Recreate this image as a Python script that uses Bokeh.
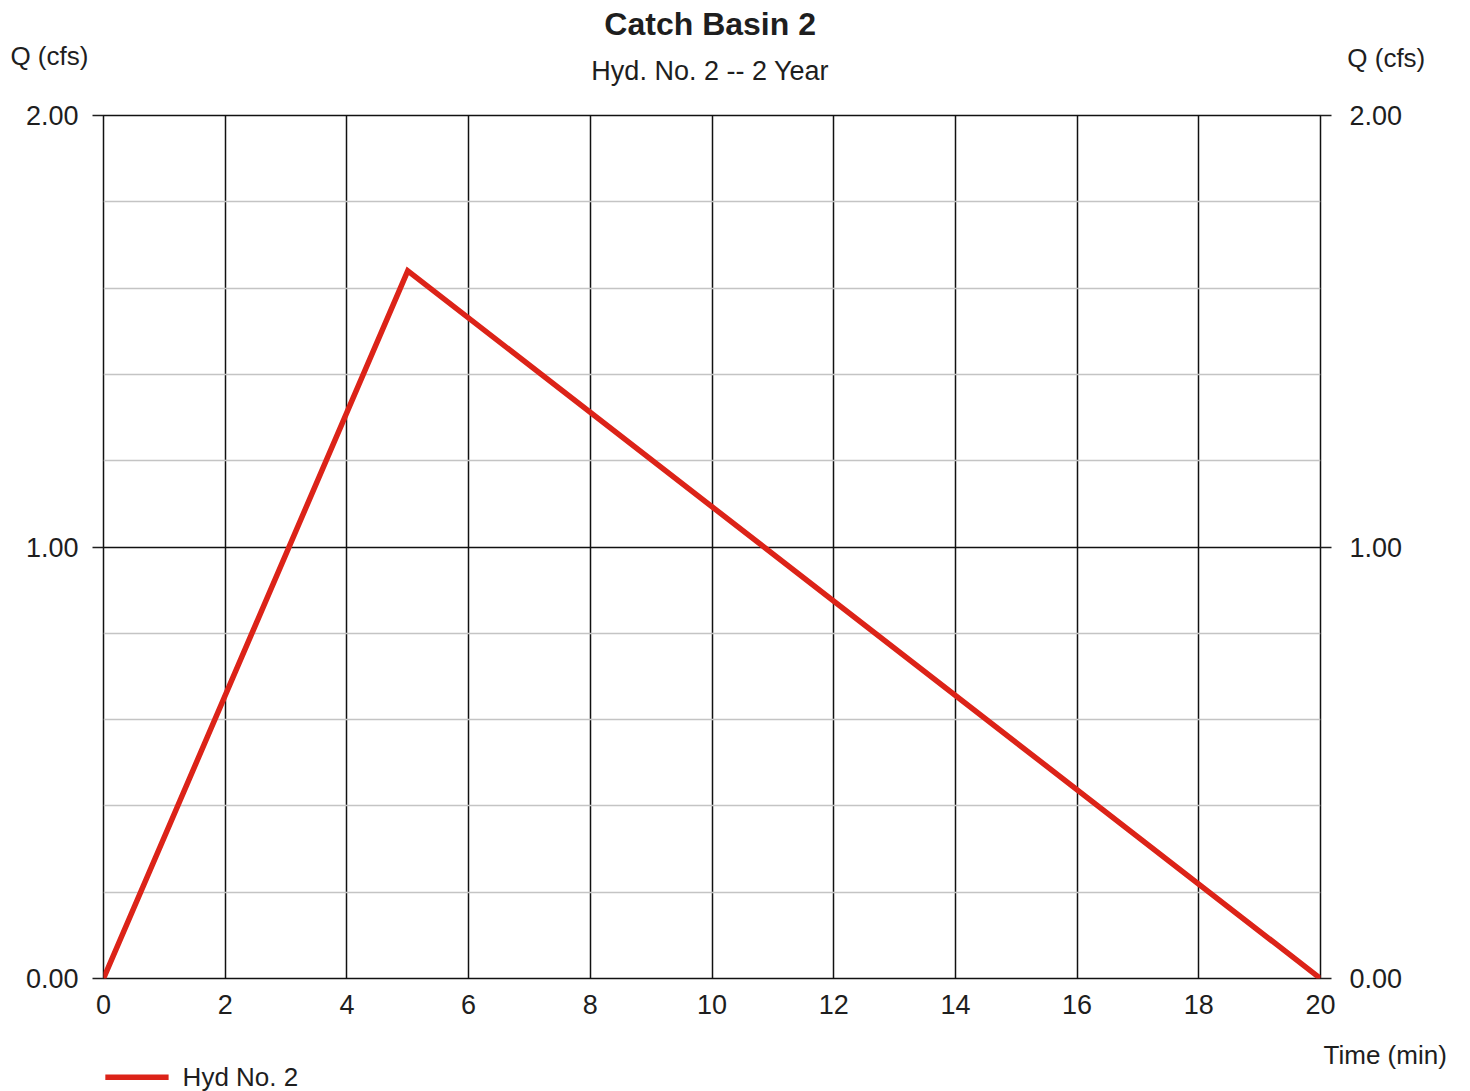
from bokeh.plotting import figure
from bokeh.models import (Range1d, LinearAxis, FixedTicker, NumeralTickFormatter,
                          ColumnDataSource)
from bokeh.core.properties import value
from bokeh.embed import file_html
from bokeh.resources import INLINE

# Data
time_min = [0, 5, 20]
q_cfs = [0.0, 1.64, 0.0]
x_ticks = [0, 2, 4, 6, 8, 10, 12, 14, 16, 18, 20]
y_ticks = [0.0, 1.0, 2.0]
y_minor = [0.2, 0.4, 0.6, 0.8, 1.2, 1.4, 1.6, 1.8]
title_text = "Catch Basin 2"
subtitle_text = "Hyd. No. 2 -- 2 Year"
y_label = "Q (cfs)"
x_label = "Time (min)"
series_name = "Hyd No. 2"

FONT = "Liberation Sans"
INK = "#1e1e1e"
RED = "#dc2318"

p = figure(width=1470, height=1091, frame_width=1217, frame_height=863,
           output_backend="svg", toolbar_location=None,
           x_range=Range1d(0, 20), y_range=Range1d(0, 2),
           min_border_left=103, min_border_right=150, min_border_top=115,
           min_border_bottom=113,
           background_fill_color="white", border_fill_color="white")
p.title = None
p.outline_line_color = "#111111"
p.outline_line_width = 1.5

yt = FixedTicker(ticks=y_ticks, minor_ticks=y_minor)
xt = FixedTicker(ticks=x_ticks, minor_ticks=[])

def style_y(ax, standoff):
    ax.ticker = yt
    ax.formatter = NumeralTickFormatter(format="0.00")
    ax.axis_line_color = None
    ax.major_tick_out = 11
    ax.major_tick_in = 0
    ax.major_tick_line_color = INK
    ax.major_tick_line_width = 1.5
    ax.minor_tick_line_color = None
    ax.major_label_text_font = FONT
    ax.major_label_text_font_size = "27px"
    ax.major_label_text_color = INK
    ax.major_label_standoff = standoff

style_y(p.yaxis[0], 14)
right = LinearAxis()
style_y(right, 18)
p.add_layout(right, "right")

bx = p.xaxis[0]
bx.ticker = xt
bx.axis_line_color = None
bx.major_tick_line_color = None
bx.minor_tick_line_color = None
bx.major_tick_out = 0
bx.major_tick_in = 0
bx.major_label_text_font = FONT
bx.major_label_text_font_size = "27px"
bx.major_label_text_color = INK
bx.major_label_standoff = 16

p.xgrid.ticker = xt
p.xgrid.grid_line_color = "#111111"
p.xgrid.grid_line_width = 1.5
p.ygrid.ticker = yt
p.ygrid.grid_line_color = "#111111"
p.ygrid.grid_line_width = 1.5
p.ygrid.minor_grid_line_color = "#c4c4c4"
p.ygrid.minor_grid_line_width = 1.5

p.line(time_min, q_cfs, line_color=RED, line_width=5.5, line_join="miter")

# Texts outside the frame: text glyphs at overlay level (positions in data units)
def txt(x, y, text, size, style="normal", align="left"):
    src = ColumnDataSource(dict(x=[x], y=[y], t=[text]))
    p.text(x="x", y="y", text="t", source=src, level="overlay",
           text_font=value(FONT), text_font_size=value(size),
           text_font_style=style, text_color=INK,
           text_align=align, text_baseline="middle")

txt(9.97, 2.211, title_text, "32px", style="bold", align="center")
txt(9.97, 2.104, subtitle_text, "27px", align="center")
txt(-1.53, 2.139, y_label, "26px")
txt(20.44, 2.134, y_label, "26px")
txt(20.05, -0.178, x_label, "26px")

# Legend key below the plot area
key = ColumnDataSource(dict(x=[0.03, 1.07], y=[-0.229, -0.229]))
p.line(x="x", y="y", source=key, level="overlay", line_color=RED, line_width=5.5)
txt(1.30, -0.229, series_name, "26px")

open("out.html", "w").write(file_html(p, INLINE))
